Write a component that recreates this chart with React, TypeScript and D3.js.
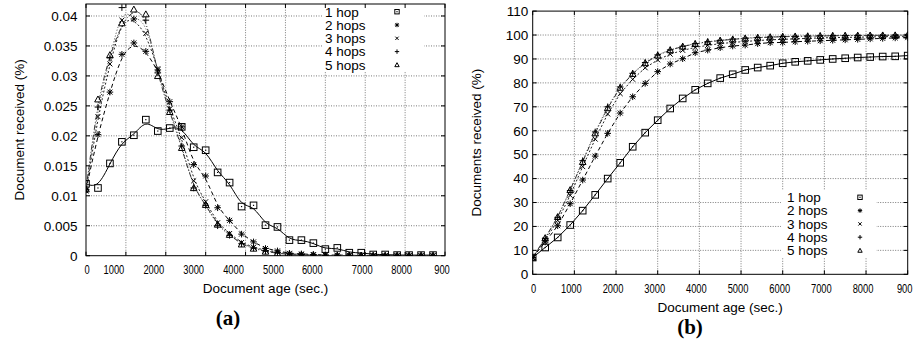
import React from "react";
import * as d3 from "d3";

// sample ages (sec.)
const pdfAges = [0, 300, 600, 900, 1200, 1500, 1800, 2100, 2400, 2700, 3000, 3300, 3600, 3900, 4200,
  4500, 4800, 5100, 5400, 5700, 6000, 6300, 6600, 6900, 7200, 7500, 7800, 8100, 8400, 8700];
const cdfAges = [0, 300, 600, 900, 1200, 1500, 1800, 2100, 2400, 2700, 3000, 3300, 3600, 3900, 4200,
  4500, 4800, 5100, 5400, 5700, 6000, 6300, 6600, 6900, 7200, 7500, 7800, 8100, 8400, 8700, 9000];

const seriesNames = ["1 hop", "2 hops", "3 hops", "4 hops", "5 hops"];

// (a) distribution of document age
const pdfHop1 = [0.012, 0.0113, 0.0154, 0.019, 0.0201, 0.0227, 0.0208, 0.0213, 0.0215, 0.0181, 0.0176, 0.0139,
  0.0122, 0.0082, 0.0084, 0.0051, 0.0048, 0.0026, 0.0026, 0.0021, 0.0011, 0.0013, 0.0005, 0.0005, 0.0002,
  0.0002, 0.0001, 0.0001, 0.0001, 0.0001];
const pdfHop2 = [0.011, 0.0202, 0.0273, 0.0336, 0.0355, 0.0341, 0.031, 0.0257, 0.0215, 0.0152, 0.0133, 0.008,
  0.0059, 0.0036, 0.0023, 0.0012, 0.0008, 0.0004, 0.0003, 0.0002, 0.0001, 0.0001, 0.0001, 0, 0, 0, 0, 0, 0, 0];
const pdfHop3 = [0.0108, 0.0232, 0.032, 0.0393, 0.0395, 0.0371, 0.0312, 0.0245, 0.0197, 0.0125, 0.009, 0.0055,
  0.0037, 0.0022, 0.0014, 0.0009, 0.0006, 0.0003, 0.0002, 0.0001, 0.0001, 0, 0, 0, 0, 0, 0, 0, 0, 0];
const pdfHop4 = [0.011, 0.0248, 0.033, 0.0414, 0.0395, 0.0393, 0.0305, 0.0243, 0.0183, 0.0113, 0.0084, 0.005,
  0.0034, 0.002, 0.0013, 0.0008, 0.0005, 0.0003, 0.0002, 0.0001, 0, 0, 0, 0, 0, 0, 0, 0, 0, 0];
const pdfHop5 = [0.0111, 0.0261, 0.0335, 0.0388, 0.0411, 0.0403, 0.03, 0.024, 0.018, 0.0113, 0.0085, 0.0052,
  0.0035, 0.0019, 0.0012, 0.0007, 0.0004, 0.0002, 0.0001, 0.0001, 0, 0, 0, 0, 0, 0, 0, 0, 0, 0];

// (b) cumulative documents received
const cdfHop1 = [7, 11.2, 15.4, 20.6, 26.6, 33.2, 40, 46.6, 53.3, 59.2, 64.4, 69.3, 73.5, 77.1, 79.8, 82, 83.6,
  85.4, 86.4, 87.2, 88.2, 88.8, 89.2, 89.6, 90, 90.3, 90.6, 90.8, 91, 91.1, 91.4];
const cdfHop2 = [7, 13.5, 20.3, 29.5, 39.4, 49.4, 58.9, 67.4, 74.2, 79.8, 84.7, 87.9, 90.1, 92.6, 93.7, 94.7,
  95.4, 95.8, 96.4, 96.8, 96.9, 97.2, 97.4, 97.6, 97.8, 98, 98.2, 98.4, 98.6, 98.8, 98.9];
const cdfHop3 = [7, 14.3, 22.5, 33, 45, 56.5, 67, 75.5, 81.5, 86.3, 89.6, 92, 93.6, 94.8, 95.7, 96.4, 96.9,
  97.3, 97.7, 98, 98.2, 98.4, 98.6, 98.8, 98.9, 99, 99.1, 99.2, 99.3, 99.4, 99.5];
const cdfHop4 = [7, 15, 23.8, 35, 47.5, 59.5, 70, 78.3, 84, 88.5, 91.7, 93.8, 95.3, 96.4, 97.2, 97.8, 98.3,
  98.7, 99, 99.2, 99.4, 99.5, 99.6, 99.7, 99.75, 99.8, 99.85, 99.9, 99.9, 99.95, 100];
const cdfHop5 = [7, 15.2, 24, 35.3, 47, 59, 69.5, 78, 83.8, 88.3, 91.5, 93.7, 95.2, 96.3, 97.1, 97.7, 98.2,
  98.6, 98.9, 99.1, 99.3, 99.4, 99.5, 99.6, 99.7, 99.75, 99.8, 99.85, 99.9, 99.9, 100];

const xTicks = [0, 1000, 2000, 3000, 4000, 5000, 6000, 7000, 8000, 9000];
const xTickLabels = ["0", "1000", "2000", "3000", "4000", "5000", "6000", "7000", "8000", "900"];
const yTicksA = [0, 0.005, 0.01, 0.015, 0.02, 0.025, 0.03, 0.035, 0.04];
const yTickLabelsA = ["0", "0.005", "0.01", "0.015", "0.02", "0.025", "0.03", "0.035", "0.04"];
const yTicksB = [0, 10, 20, 30, 40, 50, 60, 70, 80, 90, 100, 110];

const FONT = "'Liberation Sans', Arial, Helvetica, sans-serif";
const markerTypes = ["box", "star", "cross", "plus", "tri"];
const dashes = ["none", "4,3", "2,2", "1,2", "5,2,1,2"];
const strokes = ["#000", "#000", "#222", "#444", "#333"];

function Marker({ type, x, y, r }: { type: string; x: number; y: number; r: number }) {
  const k = r * 0.75;
  if (type === "box")
    return (
      <g>
        <rect x={x - r} y={y - r} width={2 * r} height={2 * r} fill="none" stroke="#000" strokeWidth={1} />
        <rect x={x - 0.6} y={y - 0.6} width={1.2} height={1.2} fill="#000" />
      </g>
    );
  if (type === "star")
    return (
      <path
        d={`M${x - r},${y}H${x + r}M${x},${y - r}V${y + r}M${x - k},${y - k}L${x + k},${y + k}M${x - k},${y + k}L${x + k},${y - k}`}
        stroke="#000" strokeWidth={1} />
    );
  if (type === "cross")
    return <path d={`M${x - k},${y - k}L${x + k},${y + k}M${x - k},${y + k}L${x + k},${y - k}`} stroke="#000" strokeWidth={1} />;
  if (type === "plus")
    return <path d={`M${x - r},${y}H${x + r}M${x},${y - r}V${y + r}`} stroke="#000" strokeWidth={1} />;
  return <path d={`M${x},${y - r}L${x + r},${y + r * 0.8}L${x - r},${y + r * 0.8}Z`} fill="none" stroke="#000" strokeWidth={1} />;
}

type PanelProps = {
  id: string;
  left: number; right: number; bottom: number; top: number;
  yMax: number; yTicks: number[]; yLabels: string[]; yLabelGap: number;
  ages: number[]; series: number[][]; smooth: boolean;
  xLabelShift: number[];
  yTitle: string; yTitleX: number;
  xTitleY: number; tag: string; tagX: number; tagY: number;
  legendX: number; legendY: number; legendSymX: number; legendBox: [number, number, number, number];
};

function Panel(p: PanelProps) {
  const x = d3.scaleLinear().domain([0, 9000]).range([p.left, p.right]);
  const y = d3.scaleLinear().domain([0, p.yMax]).range([p.bottom, p.top]);
  const line = d3.line<number>()
    .x((_, i) => x(p.ages[i]))
    .y((d) => y(d))
    .curve(p.smooth ? d3.curveBasis : d3.curveLinear);
  const tl = 4;
  const cx = (p.left + p.right) / 2;
  const cy = (p.top + p.bottom) / 2;
  return (
    <g fontFamily={FONT} fontSize={13.5}>
      <defs>
        <clipPath id={`clip-${p.id}`}>
          <rect x={p.left} y={p.top} width={p.right - p.left} height={p.bottom - p.top} />
        </clipPath>
      </defs>
      {/* grid */}
      <g stroke="#7a7a7a" strokeWidth={1} strokeDasharray="1,1.5">
        {xTicks.slice(1, -1).map((t) => (
          <line key={"gx" + t} x1={x(t)} x2={x(t)} y1={p.bottom} y2={p.top} />
        ))}
        {p.yTicks.slice(1).filter((t) => y(t) > p.top + 1).map((t) => (
          <line key={"gy" + t} x1={p.left} x2={p.right} y1={y(t)} y2={y(t)} />
        ))}
      </g>
      <rect x={p.legendBox[0]} y={p.legendBox[1]} width={p.legendBox[2]} height={p.legendBox[3]} fill="#fff" />
      {/* frame + ticks */}
      <rect x={p.left} y={p.top} width={p.right - p.left} height={p.bottom - p.top} fill="none" stroke="#000" strokeWidth={1} />
      <g stroke="#000" strokeWidth={1}>
        {xTicks.map((t) => (
          <g key={"tx" + t}>
            <line x1={x(t)} x2={x(t)} y1={p.bottom} y2={p.bottom - tl} />
            <line x1={x(t)} x2={x(t)} y1={p.top} y2={p.top + tl} />
          </g>
        ))}
        {p.yTicks.map((t) => (
          <g key={"ty" + t}>
            <line x1={p.left} x2={p.left + tl} y1={y(t)} y2={y(t)} />
            <line x1={p.right} x2={p.right - tl} y1={y(t)} y2={y(t)} />
          </g>
        ))}
      </g>
      {/* tick labels */}
      {xTicks.map((t, i) => (
        <text key={"lx" + t} x={x(t) + p.xLabelShift[i]} y={p.bottom + 18.5} textAnchor="middle"
          textLength={xTickLabels[i].length * 5.2} lengthAdjust="spacingAndGlyphs">
          {xTickLabels[i]}
        </text>
      ))}
      {p.yTicks.map((t, i) => (
        <text key={"ly" + t} x={p.left - p.yLabelGap} y={y(t) + 4.8} textAnchor="end">{p.yLabels[i]}</text>
      ))}
      {/* titles */}
      <text x={cx} y={p.xTitleY} textAnchor="middle">Document age (sec.)</text>
      <text transform={`translate(${p.yTitleX},${cy}) rotate(-90)`} textAnchor="middle">{p.yTitle}</text>
      <text x={p.tagX} y={p.tagY} textAnchor="middle" fontFamily="'Liberation Serif', 'Times New Roman', serif"
        fontWeight="bold" fontSize={21}>{p.tag}</text>
      {/* series */}
      <g clipPath={`url(#clip-${p.id})`}>
        {p.series.map((s, k) => (
          <path key={"s" + k} d={line(s) || ""} fill="none" stroke={strokes[k]} strokeWidth={1}
            strokeDasharray={dashes[k]} />
        ))}
        {p.series.map((s, k) => (
          <g key={"m" + k}>
            {s.map((v, i) => (
              <Marker key={i} type={markerTypes[k]} x={x(p.ages[i])} y={y(v)} r={3.3} />
            ))}
          </g>
        ))}
      </g>
      {/* legend */}
      {seriesNames.map((n, k) => (
        <g key={"lg" + k}>
          <text x={p.legendX} y={p.legendY + k * 13.3 + 4.8}>{n}</text>
          <Marker type={markerTypes[k]} x={p.legendSymX} y={p.legendY + k * 13.3} r={2.2} />
        </g>
      ))}
    </g>
  );
}

export default function App() {
  return (
    <svg width={916} height={351} style={{ position: "absolute", left: 0, top: 0, background: "#fff" }}>
      <Panel id="a" left={86} right={445} bottom={255.7} top={4} yMax={0.042}
        yTicks={yTicksA} yLabels={yTickLabelsA} yLabelGap={8.5} ages={pdfAges}
        series={[pdfHop1, pdfHop2, pdfHop3, pdfHop4, pdfHop5]} smooth={true}
        xLabelShift={[1, -12, -12, -12, -12, -12, -13, -3, -3.5, -3]}
        yTitle="Document received (%)" yTitleX={24} xTitleY={293} tag="(a)" tagX={228} tagY={325}
        legendX={325} legendY={11.7} legendSymX={397} legendBox={[322, 5, 102, 66]} />
      <Panel id="b" left={532.7} right={907.7} bottom={274.3} top={11.1} yMax={110}
        yTicks={yTicksB} yLabels={yTicksB.map(String)} yLabelGap={4.5} ages={cdfAges}
        series={[cdfHop1, cdfHop2, cdfHop3, cdfHop4, cdfHop5]} smooth={false}
        xLabelShift={[1, -3, -3, -3, -3, -3, -3, -3, -3, -3]}
        yTitle="Documents received (%)" yTitleX={481} xTitleY={312} tag="(b)" tagX={690} tagY={334}
        legendX={787} legendY={197.3} legendSymX={860} legendBox={[781, 190, 95, 67]} />
    </svg>
  );
}
